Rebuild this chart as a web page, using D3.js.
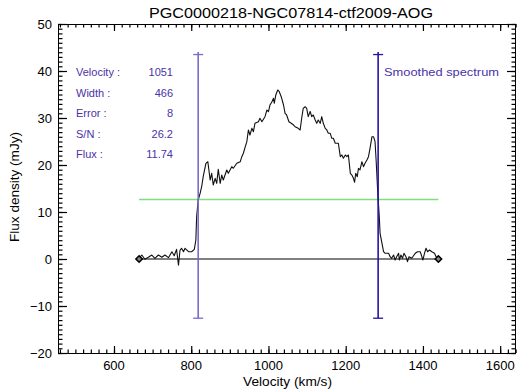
<!DOCTYPE html>
<html>
<head>
<meta charset="utf-8">
<script src="https://cdn.jsdelivr.net/npm/d3@7"></script>
<style>
html,body{margin:0;padding:0;background:#fff;}
svg{display:block;font-family:"Liberation Sans",Arial,sans-serif;}
</style>
</head>
<body>
<script>
// ---- data ----
const titleText = "PGC0000218-NGC07814-ctf2009-AOG";
const velocity = [665,672,680,689,698,706,715,724,732,741,750,756,762,767,771,775,780,784,793,801,808,812,814,818,823,827,831,838,843,849,853,857,862,866,870,875,879,883,892,896,905,909,918,927,931,935,940,944,948,952,957,961,965,974,978,983,991,996,1000,1004,1009,1013,1015,1019,1024,1028,1033,1039,1043,1047,1053,1059,1065,1069,1077,1082,1086,1090,1095,1099,1103,1108,1112,1116,1121,1125,1129,1134,1138,1142,1147,1151,1155,1160,1164,1168,1173,1177,1181,1186,1190,1194,1199,1203,1207,1212,1216,1220,1223,1226,1230,1233,1237,1242,1246,1250,1255,1259,1263,1268,1272,1276,1279,1282,1285,1287,1289,1294,1298,1302,1311,1315,1319,1324,1328,1332,1337,1339,1343,1347,1351,1356,1360,1364,1371,1380,1386,1393,1400,1404,1408,1412,1417,1423,1430,1434,1440];
const flux = [0.15,0.85,-0.06,0.36,0.85,0.15,0.85,0.36,0.85,0.28,1.55,0.7,2.06,-1.34,1.91,2.28,1.55,2.28,1.55,1.55,2.06,4.04,9.0,12.55,13.98,15.38,17.51,20.36,20.7,16.8,18.23,15.74,17.17,16.1,19.1,16.1,17.87,16.8,18.94,18.23,19.64,19.3,20.36,20.7,21.77,22.5,23.9,24.96,27.45,26.38,27.8,27.09,28.87,29.2,29.94,29.2,30.28,31.7,31.34,32.77,33.47,34.19,33.13,34.9,35.96,35.6,34.53,32.77,31.0,30.64,29.2,28.87,28.5,28.15,27.8,27.45,29.94,32.06,32.4,32.06,30.28,31.4,30.28,30.64,29.57,28.87,29.57,28.87,30.28,28.87,27.8,27.45,26.74,26.74,25.68,25.68,24.62,24.62,24.62,21.77,22.13,21.43,22.13,21.77,22.13,18.23,17.87,17.17,16.32,18.23,17.51,19.3,18.94,20.7,19.64,20.36,21.06,21.77,23.55,26.02,26.02,24.96,20.7,15.74,11.49,9.0,5.47,3.34,1.55,1.21,1.21,0.49,0.15,0.85,-0.21,0.49,1.21,-0.21,0.85,0.15,1.21,0.49,-0.57,0.49,0.15,1.21,1.55,1.55,-0.21,1.21,2.28,1.55,1.91,1.55,1.21,0.49,0];
const xTicks = [600,800,1000,1200,1400,1600];
const yTicks = [-20,-10,0,10,20,30,40,50];
const xDomain = [455, 1641];
const yDomain = [-20, 50];
const statLabels = ["Velocity :","Width :","Error :","S/N :","Flux :"];
const statValues = ["1051","466","8","26.2","11.74"];
const widthEdges = [818, 1284];      // velocity limits of the width measurement
const edgeFlux = [-12.6, 43.5];      // vertical extent of the edge markers
const levelFlux = 12.66;             // green level line
const legendText = "Smoothed spectrum";
const xLabel = "Velocity (km/s)";
const yLabel = "Flux density (mJy)";

// ---- drawing ----
const W = 518, H = 390;
const L = 58, R = 516, T = 24, B = 353;
const svg = d3.select("body").append("svg").attr("width", W).attr("height", H)
  .attr("viewBox", `0 0 ${W} ${H}`);
const x = d3.scaleLinear().domain(xDomain).range([L, R]);
const y = d3.scaleLinear().domain(yDomain).range([B, T]);

const txtCol = "#4a32a8";
const xMinor = d3.range(460, 1641, 20);
const yMinor = d3.range(-20, 51, 1);
const xMaj = 7, xMin = 3.5, yMaj = 9, yMin = 4.5;
const noLabel = () => "";

// inward-pointing ticks via d3 axes with positive sizes (orientation flipped)
function tickAxis(axisFn, scale, vals, size, tx, ty) {
  const g = svg.append("g").attr("transform", `translate(${tx},${ty})`)
    .call(axisFn(scale).tickValues(vals).tickSize(size).tickFormat(noLabel));
  g.select(".domain").remove();
  g.selectAll(".tick line").attr("stroke", "#000").attr("stroke-width", 1.2);
}
tickAxis(d3.axisTop, x, xMinor, xMin, 0, B);
tickAxis(d3.axisTop, x, xTicks, xMaj, 0, B);
tickAxis(d3.axisBottom, x, xMinor, xMin, 0, T);
tickAxis(d3.axisBottom, x, xTicks, xMaj, 0, T);
tickAxis(d3.axisRight, y, yMinor, yMin, L, 0);
tickAxis(d3.axisRight, y, yTicks, yMaj, L, 0);
tickAxis(d3.axisLeft, y, yMinor, yMin, R, 0);
tickAxis(d3.axisLeft, y, yTicks, yMaj, R, 0);

// frame
svg.append("rect").attr("x", L + 0.5).attr("y", T + 0.5)
  .attr("width", R - L - 1).attr("height", B - T)
  .attr("fill", "none").attr("stroke", "#000").attr("stroke-width", 1);

// tick labels
svg.append("g").selectAll("text").data(xTicks).join("text")
  .attr("x", d => x(d)).attr("y", 370)
  .attr("text-anchor", "middle").attr("font-size", 13).attr("fill", "#000")
  .text(d => d);
svg.append("g").selectAll("text").data(yTicks).join("text")
  .attr("x", 52).attr("y", d => y(d) + 4.5)
  .attr("text-anchor", "end").attr("font-size", 13).attr("fill", "#000")
  .text(d => d < 0 ? "\u2212" + Math.abs(d) : d);

// zero line
svg.append("line")
  .attr("x1", x(velocity[0])).attr("x2", x(velocity[velocity.length - 1]))
  .attr("y1", y(0)).attr("y2", y(0))
  .attr("stroke", "#000").attr("stroke-width", 1);

// green level line
svg.append("line")
  .attr("x1", x(velocity[0])).attr("x2", x(velocity[velocity.length - 1]))
  .attr("y1", y(levelFlux)).attr("y2", y(levelFlux))
  .attr("stroke", "#7fdf7f").attr("stroke-width", 1.6);

// spectrum
const line = d3.line().x((d, i) => x(velocity[i])).y((d, i) => y(flux[i]));
svg.append("path").datum(flux)
  .attr("d", line).attr("fill", "none").attr("stroke", "#111").attr("stroke-width", 1.1)
  .attr("stroke-linejoin", "round");

// width edge markers
const edgeCols = ["#7b6bcb", "#2a12a0"];
widthEdges.forEach((v, i) => {
  const col = edgeCols[i];
  svg.append("line")
    .attr("x1", x(v)).attr("x2", x(v))
    .attr("y1", y(edgeFlux[0])).attr("y2", y(edgeFlux[1]) - 2.5)
    .attr("stroke", col).attr("stroke-width", 1.6);
  edgeFlux.forEach(f => {
    svg.append("line")
      .attr("x1", x(v) - 5).attr("x2", x(v) + 5)
      .attr("y1", y(f)).attr("y2", y(f))
      .attr("stroke", col).attr("stroke-width", 1.3);
  });
});

// diamonds at spectrum ends
[velocity[0], velocity[velocity.length - 1]].forEach(v => {
  const cx = x(v), cy = y(0), s = 3.2;
  svg.append("path")
    .attr("d", `M${cx - s},${cy}L${cx},${cy - s}L${cx + s},${cy}L${cx},${cy + s}Z`)
    .attr("fill", "#888").attr("stroke", "#000").attr("stroke-width", 1.6);
});

// title
svg.append("text")
  .attr("x", 149).attr("y", 18)
  .attr("textLength", 284).attr("lengthAdjust", "spacingAndGlyphs")
  .attr("font-size", 14).attr("fill", "#000")
  .text(titleText);

// axis labels
svg.append("text")
  .attr("x", 243).attr("y", 386)
  .attr("textLength", 89).attr("lengthAdjust", "spacingAndGlyphs")
  .attr("font-size", 12.5).attr("fill", "#000")
  .text(xLabel);
svg.append("text")
  .attr("transform", `translate(19,242) rotate(-90)`)
  .attr("textLength", 110).attr("lengthAdjust", "spacingAndGlyphs")
  .attr("font-size", 12).attr("fill", "#000")
  .text(yLabel);

// statistics block
const rowY = [76, 96.5, 117, 137.5, 158];
statLabels.forEach((s, i) => {
  svg.append("text").attr("x", 76).attr("y", rowY[i])
    .attr("font-size", 11).attr("fill", txtCol).text(s);
  svg.append("text").attr("x", 173).attr("y", rowY[i])
    .attr("text-anchor", "end")
    .attr("font-size", 11).attr("fill", txtCol).text(statValues[i]);
});

svg.append("text").attr("x", 384).attr("y", 76)
  .attr("textLength", 115).attr("lengthAdjust", "spacingAndGlyphs")
  .attr("font-size", 11.5).attr("fill", txtCol).text(legendText);
</script>
</body>
</html>
